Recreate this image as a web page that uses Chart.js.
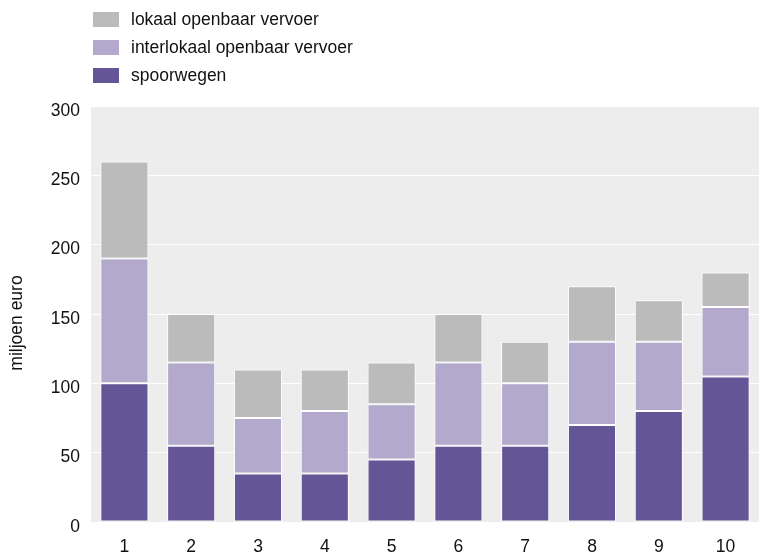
<!DOCTYPE html>
<html>
<head>
<meta charset="utf-8">
<script src="https://cdn.jsdelivr.net/npm/chart.js@4/dist/chart.umd.min.js"></script>
<style>
  html, body { margin: 0; padding: 0; background: #ffffff; }
  #wrap { position: relative; width: 759px; height: 554px; }
  #legend { position: absolute; left: 93px; top: 5px; font-family: "Liberation Sans", Arial, sans-serif; font-size: 17.5px; color: #111; }
  .item { display: flex; align-items: center; height: 28px; }
  .box { width: 26px; height: 15px; margin-right: 12px; }
</style>
</head>
<body>
<div id="wrap">
  <canvas id="c" width="759" height="554"></canvas>
  <div id="legend"></div>
</div>
<script>
const categories = ["1", "2", "3", "4", "5", "6", "7", "8", "9", "10"];
const spoorwegen = [100, 55, 35, 35, 45, 55, 55, 70, 80, 105];
const interlokaal = [90, 60, 40, 45, 40, 60, 45, 60, 50, 50];
const lokaal = [70, 35, 35, 30, 30, 35, 30, 40, 30, 25];
const seriesNames = ["spoorwegen", "interlokaal openbaar vervoer", "lokaal openbaar vervoer"];
const yTicks = [0, 50, 100, 150, 200, 250, 300];
const yTitle = "miljoen euro";

const colors = ["#645596", "#b3a9cc", "#bbbbbb"];
const FONT = "'Liberation Sans', Arial, sans-serif";

const bgPlugin = {
  id: 'plotBg',
  beforeDraw(chart) {
    const a = chart.chartArea, ctx = chart.ctx;
    ctx.save();
    ctx.fillStyle = '#ededed';
    ctx.fillRect(a.left, a.top, a.right - a.left, a.bottom - a.top);
    ctx.restore();
  }
};

const titlePlugin = {
  id: 'yTitle',
  afterDraw(chart) {
    const ctx = chart.ctx;
    ctx.save();
    ctx.translate(17, 323);
    ctx.rotate(-Math.PI / 2);
    ctx.fillStyle = '#111';
    ctx.font = "17.5px " + FONT;
    ctx.textAlign = 'center';
    ctx.textBaseline = 'middle';
    ctx.fillText(yTitle, 0, 0);
    ctx.restore();
  }
};

const datasets = [spoorwegen, interlokaal, lokaal].map((d, i) => ({
  label: seriesNames[i],
  data: d,
  backgroundColor: colors[i],
  borderColor: '#ffffff',
  borderWidth: 1,
  borderSkipped: false,
  categoryPercentage: 1,
  barPercentage: 0.72
}));

new Chart(document.getElementById('c'), {
  type: 'bar',
  data: { labels: categories, datasets },
  options: {
    responsive: false,
    animation: false,
    devicePixelRatio: 1,
    layout: { padding: { top: 106, left: 0, right: 0, bottom: 0 } },
    plugins: { legend: { display: false }, tooltip: { enabled: false } },
    scales: {
      x: {
        stacked: true,
        grid: { display: false, drawTicks: false },
        border: { display: false },
        ticks: { color: '#111', font: { family: FONT, size: 17.5 }, padding: 15, maxRotation: 0 },
        afterFit(s) { s.height = 32; }
      },
      y: {
        stacked: true,
        min: 0, max: 300,
        afterBuildTicks(s) { s.ticks = yTicks.map(v => ({ value: v })); },
        grid: { color: '#ffffff', lineWidth: 1, drawTicks: false },
        border: { display: false },
        ticks: { color: '#111', font: { family: FONT, size: 17.5 }, padding: 11, labelOffset: 5 },
        title: { display: false },
        afterFit(s) { s.width = 91; }
      }
    }
  },
  plugins: [bgPlugin, titlePlugin]
});

const leg = document.getElementById('legend');
[2, 1, 0].forEach(i => {
  const it = document.createElement('div');
  it.className = 'item';
  const b = document.createElement('span');
  b.className = 'box';
  b.style.background = colors[i];
  const t = document.createElement('span');
  t.textContent = seriesNames[i];
  it.appendChild(b); it.appendChild(t);
  leg.appendChild(it);
});
</script>
</body>
</html>
